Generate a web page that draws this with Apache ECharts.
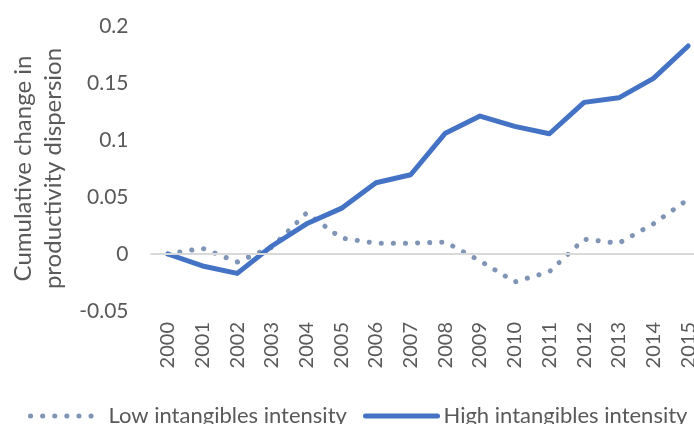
<!DOCTYPE html>
<html>
<head>
<meta charset="utf-8">
<script src="https://cdn.jsdelivr.net/npm/echarts@6/dist/echarts.min.js"></script>
<style>html,body{margin:0;padding:0;background:#fff;}#c{width:694px;height:424px;}</style>
</head>
<body>
<div id="c"></div>
<script>
var years = ['2000','2001','2002','2003','2004','2005','2006','2007','2008','2009','2010','2011','2012','2013','2014','2015'];
var lowIntangibles = [0, 0.005, -0.007, 0.006, 0.036, 0.014, 0.0095, 0.0095, 0.0105, -0.006, -0.0245, -0.0155, 0.013, 0.0095, 0.0265, 0.048];
var highIntangibles = [0, -0.0105, -0.017, 0.007, 0.0265, 0.040, 0.0625, 0.0695, 0.106, 0.121, 0.112, 0.1055, 0.133, 0.137, 0.154, 0.1825];
var yTicks = {min: -0.05, max: 0.2, step: 0.05};
var seriesNames = ['Low intangibles intensity', 'High intangibles intensity'];

var font = 'Lato';
var txt = '#595959';
var lowColor = '#7f95b5';
var highColor = '#4472c4';
var lowLine = {color: lowColor, width: 5, type: [0.1, 12], cap: 'round'};
var highLine = {color: highColor, width: 5, type: 'solid', cap: 'round', join: 'round'};

function legendFor(name, style, left) {
  return {
    left: left, top: 405, orient: 'horizontal', padding: 0,
    data: [{name: name, lineStyle: style}],
    itemWidth: 72, itemHeight: 8,
    itemStyle: {opacity: 0},
    textStyle: {fontFamily: font, fontSize: 22, color: txt, padding: [0, 0, 0, 1]}
  };
}

var chart = echarts.init(document.getElementById('c'), null, {renderer: 'canvas'});
chart.setOption({
  animation: false,
  backgroundColor: '#fff',
  grid: {left: 150.5, top: 26, width: 555, height: 285, containLabel: false, outerBoundsMode: 'none'},
  legend: [
    legendFor(seriesNames[0], lowLine, 28),
    legendFor(seriesNames[1], highLine, 363)
  ],
  xAxis: {
    type: 'category', data: years, boundaryGap: true,
    axisLine: {show: false}, axisTick: {show: false},
    axisLabel: {rotate: 90, margin: 11, fontFamily: font, fontSize: 20, color: txt}
  },
  yAxis: {
    type: 'value', min: yTicks.min, max: yTicks.max, interval: yTicks.step,
    axisLine: {show: false}, axisTick: {show: false}, splitLine: {show: false},
    axisLabel: {margin: 22, fontFamily: font, fontSize: 21, color: txt,
      formatter: function (v) { return String(Math.round(v * 100) / 100); }},
    name: 'Cumulative change in\nproductivity dispersion',
    nameLocation: 'middle', nameGap: 79, nameRotate: 90,
    nameTextStyle: {fontFamily: font, fontSize: 24, color: txt, lineHeight: 30}
  },
  series: [
    {
      name: 'zero', type: 'line', data: [], z: 1, silent: true,
      markLine: {silent: true, symbol: 'none', label: {show: false},
        lineStyle: {color: '#d9d9d9', type: 'solid', width: 2},
        data: [{yAxis: 0}]}
    },
    {
      name: seriesNames[0], type: 'line', data: lowIntangibles, z: 3,
      symbol: 'none', smooth: false,
      itemStyle: {color: lowColor},
      lineStyle: lowLine
    },
    {
      name: seriesNames[1], type: 'line', data: highIntangibles, z: 4,
      symbol: 'none', smooth: false,
      itemStyle: {color: highColor},
      lineStyle: highLine
    }
  ]
});
</script>
</body>
</html>
